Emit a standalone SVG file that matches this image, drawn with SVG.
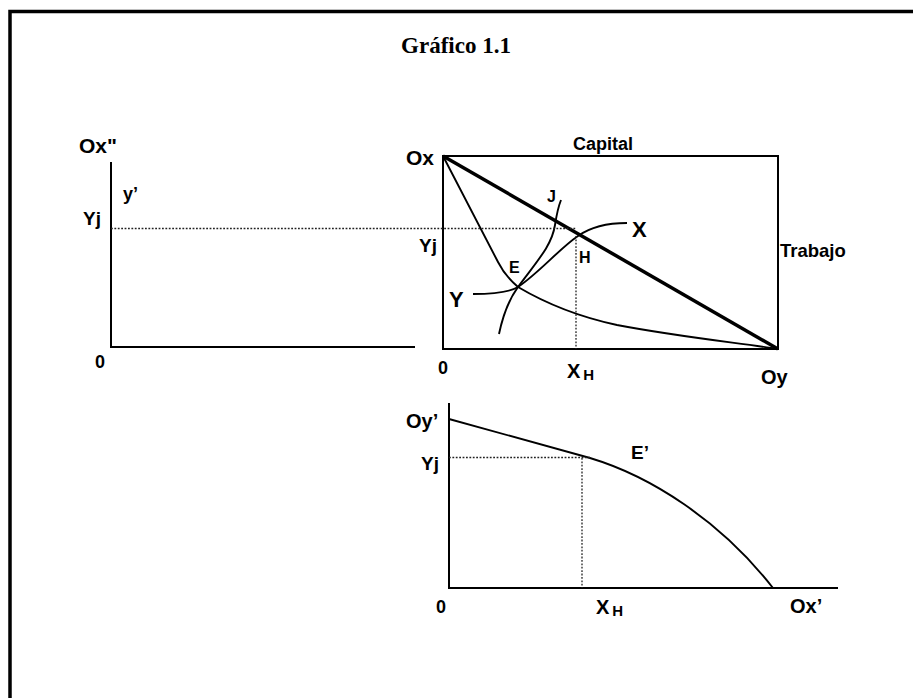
<svg xmlns="http://www.w3.org/2000/svg" width="913" height="698" viewBox="0 0 913 698">
<style>
  .lbl { font-family: "Liberation Sans", Arial, sans-serif; font-weight: bold; fill: #000; }
  .title { font-family: "Liberation Serif", "Times New Roman", serif; font-weight: bold; fill: #000; }
  .ax { fill: none; stroke: #000; stroke-width: 2; }
  .crv { fill: none; stroke: #000; stroke-width: 1.9; }
  .dot { fill: none; stroke: #222; stroke-width: 1.3; stroke-dasharray: 1.8 1.6; }
</style>
<rect x="0" y="0" width="913" height="698" fill="#fff"/>
<path d="M10,698 V11.5 H913" fill="none" stroke="#000" stroke-width="3.5"/>
<text class="title" x="456" y="53" font-size="23" text-anchor="middle">Gráfico 1.1</text>

<g id="left-graph">
  <path class="ax" d="M111,162 V347 H415"/>
  <text class="lbl" x="79" y="153" font-size="21">Ox"</text>
  <text class="lbl" x="123" y="200" font-size="18">y’</text>
  <text class="lbl" x="83" y="225" font-size="19">Yj</text>
  <text class="lbl" x="95" y="368" font-size="18">0</text>
</g>

<g id="edgeworth-box">
  <rect x="443" y="156" width="335" height="193" fill="none" stroke="#000" stroke-width="2"/>
  <line x1="443" y1="156" x2="778" y2="349" stroke="#000" stroke-width="3.5"/>
  <path class="crv" d="M443,156 L498,262 Q505,276 518,287 C540,300 575,316 617,325 C680,337 740,343 778,349"/>
  <path class="crv" d="M473,294 C495,294 510,292 518,287 C540,272 560,248 578,236 C592,226 610,223 627,223"/>
  <path class="crv" d="M499,334 C503,315 510,298 518,287 C538,260 552,245 555,225 C557,212 559,205 561,200"/>
  <text class="lbl" x="406" y="165" font-size="21">Ox</text>
  <text class="lbl" x="573" y="150" font-size="18">Capital</text>
  <text class="lbl" x="780" y="257" font-size="18.5">Trabajo</text>
  <text class="lbl" x="419" y="252" font-size="19">Yj</text>
  <text class="lbl" x="547" y="202" font-size="16">J</text>
  <text class="lbl" x="632" y="237" font-size="22">X</text>
  <text class="lbl" x="579" y="263" font-size="16">H</text>
  <text class="lbl" x="509" y="273" font-size="16">E</text>
  <text class="lbl" x="449" y="307" font-size="22">Y</text>
  <text class="lbl" x="438" y="374" font-size="18">0</text>
  <text class="lbl" x="567" y="378" font-size="20">X<tspan font-size="15" dx="3" dy="2">H</tspan></text>
  <text class="lbl" x="761" y="384" font-size="20">Oy</text>
</g>

<g id="bottom-graph">
  <path class="ax" d="M449,403 V588 H838"/>
  <path class="crv" d="M449,419 L590,458 C650,476 720,520 773,588"/>
  <text class="lbl" x="406" y="428" font-size="20">Oy’</text>
  <text class="lbl" x="421" y="470" font-size="19">Yj</text>
  <text class="lbl" x="631" y="459" font-size="19">E’</text>
  <text class="lbl" x="436" y="613" font-size="18">0</text>
  <text class="lbl" x="596" y="614" font-size="20">X<tspan font-size="15" dx="3" dy="2">H</tspan></text>
  <text class="lbl" x="790" y="613" font-size="20">Ox’</text>
</g>

<g id="connectors">
  <line class="dot" x1="111" y1="228.5" x2="576" y2="228.5"/>
  <line class="dot" x1="576" y1="236" x2="576" y2="349"/>
  <line class="dot" x1="449" y1="457.5" x2="590" y2="457.5"/>
  <line class="dot" x1="582" y1="458" x2="582" y2="588"/>
</g>
</svg>
